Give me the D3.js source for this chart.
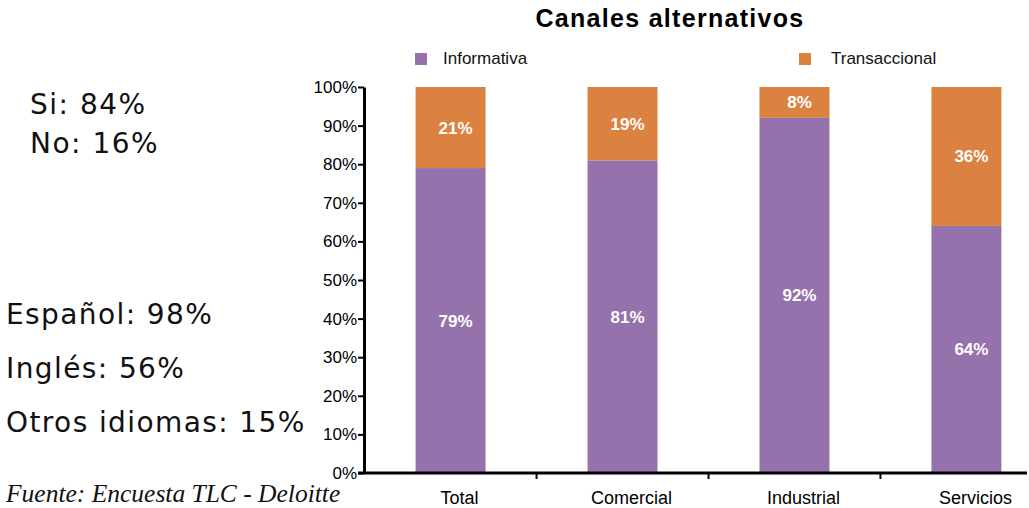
<!DOCTYPE html>
<html>
<head>
<meta charset="utf-8">
<script src="https://cdn.jsdelivr.net/npm/d3@7"></script>
<style>
  html, body { margin: 0; padding: 0; background: #fff; }
  svg { display: block; }
</style>
</head>
<body>
<svg id="chart" width="1029" height="508"></svg>
<script>
// Survey results: channel type by sector
const categories = ["Total", "Comercial", "Industrial", "Servicios"];
const informativa = [79, 81, 92, 64];
const transaccional = [21, 19, 8, 36];
const seriesNames = ["Informativa", "Transaccional"];
const seriesColors = ["#9672ad", "#db8241"];
const yTicks = [0, 10, 20, 30, 40, 50, 60, 70, 80, 90, 100];
const sideNotes = [["Si: 84%", "No: 16%"], ["Español: 98%", "Inglés: 56%", "Otros idiomas: 15%"]];
const source = "Fuente: Encuesta TLC - Deloitte";

const svg = d3.select("#chart");
const chartFont = "'Liberation Sans', Arial, sans-serif";

const plot = { left: 364, right: 1053, top: 87, bottom: 473 };

const x = d3.scaleBand()
  .domain(categories)
  .range([plot.left, plot.right])
  .paddingInner(0.593)
  .paddingOuter(0.3);

const y = d3.scaleLinear().domain([0, 100]).range([plot.bottom, plot.top]);

const rows = categories.map((c, i) => ({ cat: c, Informativa: informativa[i], Transaccional: transaccional[i] }));
const stacked = d3.stack().keys(seriesNames)(rows);

// Bars with value labels
const g = svg.append("g");
stacked.forEach((layer, li) => {
  g.selectAll(null).data(layer).enter().append("rect")
    .attr("x", d => x(d.data.cat))
    .attr("width", x.bandwidth())
    .attr("y", d => y(d[1]))
    .attr("height", d => y(d[0]) - y(d[1]))
    .attr("fill", seriesColors[li]);
  g.selectAll(null).data(layer).enter().append("text")
    .attr("x", d => x(d.data.cat) + x.bandwidth() / 2 + 5)
    .attr("y", d => (y(d[0]) + y(d[1])) / 2 + 6)
    .attr("text-anchor", "middle")
    .attr("fill", "#fff")
    .attr("font-family", chartFont)
    .attr("font-weight", "bold")
    .attr("font-size", 17)
    .text(d => (d[1] - d[0]) + "%");
});

// Y axis
const yAxis = svg.append("g")
  .attr("transform", `translate(${plot.left},0)`)
  .call(d3.axisLeft(y).tickValues(yTicks).tickFormat(d => d + "%").tickSize(6).tickSizeOuter(0));
yAxis.select(".domain").attr("stroke", "#000").attr("stroke-width", 3);
yAxis.selectAll(".tick line").attr("stroke", "#000").attr("stroke-width", 2);
yAxis.selectAll(".tick text")
  .attr("font-family", chartFont).attr("font-size", 17).attr("fill", "#000").attr("x", -7);

// X axis: labels under the bars, tick marks on the boundaries between groups
const xAxis = svg.append("g")
  .attr("transform", `translate(0,${plot.bottom})`)
  .call(d3.axisBottom(x).tickSize(0).tickSizeOuter(0));
xAxis.select(".domain").attr("stroke", "#000").attr("stroke-width", 3)
  .attr("d", `M${plot.left - 6},0H1027`);
xAxis.selectAll(".tick text")
  .attr("font-family", chartFont).attr("font-size", 18).attr("fill", "#000")
  .attr("dy", 0).attr("y", 31).attr("x", 9);
const boundaries = categories.slice(1).map(c => x(c) - x.step() * x.paddingInner() / 2);
xAxis.selectAll(".sep").data(boundaries).enter().append("line")
  .attr("class", "sep")
  .attr("x1", d => d).attr("x2", d => d)
  .attr("y1", 0).attr("y2", 6)
  .attr("stroke", "#000").attr("stroke-width", 2);

// Title
svg.append("text")
  .attr("x", 670).attr("y", 27)
  .attr("text-anchor", "middle")
  .attr("font-family", chartFont).attr("font-weight", "bold").attr("font-size", 25)
  .attr("letter-spacing", 1.3)
  .text("Canales alternativos");

// Legend
const legendPos = [{ sx: 415, tx: 443 }, { sx: 799, tx: 831 }];
seriesNames.forEach((name, i) => {
  svg.append("rect").attr("x", legendPos[i].sx).attr("y", 53).attr("width", 12).attr("height", 12)
    .attr("fill", seriesColors[i]);
  svg.append("text").attr("x", legendPos[i].tx).attr("y", 64)
    .attr("font-family", chartFont).attr("font-size", 17).attr("fill", "#111")
    .text(name);
});

// Side notes
const noteFont = "'DejaVu Sans', Verdana, sans-serif";
sideNotes[0].forEach((t, i) => {
  svg.append("text").attr("x", 30).attr("y", 114 + i * 39)
    .attr("font-family", noteFont).attr("font-size", 28).attr("letter-spacing", 1.5)
    .attr("fill", "#111").text(t);
});
sideNotes[1].forEach((t, i) => {
  svg.append("text").attr("x", 6).attr("y", 324 + i * 54)
    .attr("font-family", noteFont).attr("font-size", 28).attr("letter-spacing", 1.4)
    .attr("fill", "#111").text(t);
});

// Source
svg.append("text").attr("x", 6).attr("y", 502)
  .attr("font-family", "'Liberation Serif', 'Times New Roman', serif")
  .attr("font-style", "italic").attr("font-size", 25.5).attr("fill", "#111")
  .text(source);
</script>
</body>
</html>
